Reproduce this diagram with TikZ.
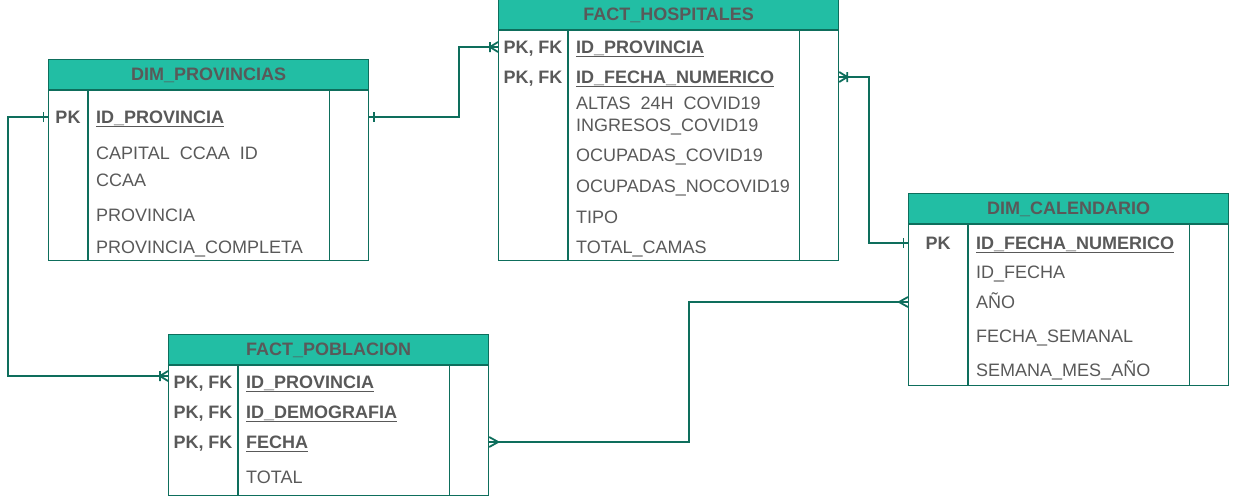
\documentclass[tikz,border=0pt]{standalone}
\usepackage{fontspec}
\setmainfont{Liberation Sans}
\usepackage{xcolor}
\usepackage{tikz}
\usetikzlibrary{positioning,calc}
\definecolor{myteal}{RGB}{34,190,164}
\definecolor{mydark}{RGB}{14,110,92}
\definecolor{mygray}{RGB}{89,89,89}
\newcommand{\tblfont}{\fontsize{18}{21}\selectfont}
\newcommand{\pkfield}[1]{\setbox0\hbox{\textbf{#1}}\rlap{\rule[-4pt]{\wd0}{1.8pt}}\box0}

% one: a bar near the end
\pgfdeclarearrow{
  name = barone,
  setup code = {
    \pgfarrowssettipend{0pt}
    \pgfarrowssetlineend{0pt}
    \pgfarrowssetbackend{-6pt}
    \pgfarrowssavethe\pgflinewidth
  },
  drawing code = {
    \pgfpathmoveto{\pgfpoint{-4.5pt}{-5pt}}
    \pgfpathlineto{\pgfpoint{-4.5pt}{5pt}}
    \pgfusepathqstroke
  }
}
% many: crow's foot
\pgfdeclarearrow{
  name = crowfoot,
  setup code = {
    \pgfarrowssettipend{0pt}
    \pgfarrowssetlineend{0pt}
    \pgfarrowssetbackend{-9pt}
    \pgfarrowssavethe\pgflinewidth
  },
  drawing code = {
    \pgfpathmoveto{\pgfpoint{0pt}{5pt}}
    \pgfpathlineto{\pgfpoint{-9pt}{0pt}}
    \pgfpathlineto{\pgfpoint{0pt}{-5pt}}
    \pgfusepathqstroke
  }
}
% one or many: crow's foot and bar
\pgfdeclarearrow{
  name = crowbar,
  setup code = {
    \pgfarrowssettipend{0pt}
    \pgfarrowssetlineend{0pt}
    \pgfarrowssetbackend{-10pt}
    \pgfarrowssavethe\pgflinewidth
  },
  drawing code = {
    \pgfpathmoveto{\pgfpoint{0pt}{5pt}}
    \pgfpathlineto{\pgfpoint{-8pt}{0pt}}
    \pgfpathlineto{\pgfpoint{0pt}{-5pt}}
    \pgfpathmoveto{\pgfpoint{-8pt}{-5pt}}
    \pgfpathlineto{\pgfpoint{-8pt}{5pt}}
    \pgfusepathqstroke
  }
}

\begin{document}
\begin{tikzpicture}[x=1pt, y=-1pt,
    tbl/.style={draw=mydark, line width=1.2pt, inner sep=0pt, minimum width=320pt},
    hdr/.style={tbl, fill=myteal, minimum height=30pt, text height=12.9pt, text depth=0pt,
      font=\tblfont\bfseries, text=mygray},
    key/.style={inner sep=0pt, text height=12.9pt, text depth=0pt, font=\tblfont\bfseries, text=mygray},
    field/.style={key, anchor=west, font=\tblfont},
    colline/.style={draw=mydark, line width=1.2pt},
    rel/.style={draw=mydark, line width=1.8pt}]
  \useasboundingbox (0,0) rectangle (1241,496);

  % DIM_PROVINCIAS
  \node[tbl, minimum height=170pt, anchor=north west] (prov) at (48,90) {};
  \draw[colline] ([xshift=40pt]prov.north west) -- ([xshift=40pt]prov.south west);
  \draw[colline] ([xshift=-40pt]prov.north east) -- ([xshift=-40pt]prov.south east);
  \node[hdr, anchor=south west] (provH) at (prov.north west) {DIM\_PROVINCIAS};
  \node[key] (provK1) at (68,117) {PK};
  \node[field] (provF1) at (96,117) {\pkfield{ID\_PROVINCIA}};
  \node[field] (provF2) at (96,153) {CAPITAL\phantom{\_}CCAA\phantom{\_}ID};
  \node[field] (provF3) at (96,180) {CCAA};
  \node[field] (provF4) at (96,215) {PROVINCIA};
  \node[field] (provF5) at (96,247) {PROVINCIA\_COMPLETA};

  % FACT_HOSPITALES
  \node[tbl, minimum width=340pt, minimum height=230pt, anchor=north west] (hosp) at (498,30) {};
  \draw[colline] ([xshift=70pt]hosp.north west) -- ([xshift=70pt]hosp.south west);
  \draw[colline] ([xshift=-40pt]hosp.north east) -- ([xshift=-40pt]hosp.south east);
  \node[hdr, minimum width=340pt, anchor=south west] (hospH) at (hosp.north west) {FACT\_HOSPITALES};
  \node[key] (hospK1) at (533,47) {PK, FK};
  \node[key] (hospK2) at (533,77) {PK, FK};
  \node[field] (hospF1) at (576,47) {\pkfield{ID\_PROVINCIA}};
  \node[field] (hospF2) at (576,77) {\pkfield{ID\_FECHA\_NUMERICO}};
  \node[field] (hospF3) at (576,103) {ALTAS\phantom{\_}24H\phantom{\_}COVID19};
  \node[field] (hospF4) at (576,125) {INGRESOS\_COVID19};
  \node[field] (hospF5) at (576,155) {OCUPADAS\_COVID19};
  \node[field] (hospF6) at (576,186) {OCUPADAS\_NOCOVID19};
  \node[field] (hospF7) at (576,217) {TIPO};
  \node[field] (hospF8) at (576,247) {TOTAL\_CAMAS};

  % DIM_CALENDARIO
  \node[tbl, minimum height=161pt, anchor=north west] (cal) at (908,224) {};
  \draw[colline] ([xshift=60pt]cal.north west) -- ([xshift=60pt]cal.south west);
  \draw[colline] ([xshift=-40pt]cal.north east) -- ([xshift=-40pt]cal.south east);
  \node[hdr, anchor=south west] (calH) at (cal.north west) {DIM\_CALENDARIO};
  \node[key] (calK1) at (938,243) {PK};
  \node[field] (calF1) at (976,243) {\pkfield{ID\_FECHA\_NUMERICO}};
  \node[field] (calF2) at (976,272) {ID\_FECHA};
  \node[field] (calF3) at (976,302) {AÑO};
  \node[field] (calF4) at (976,336) {FECHA\_SEMANAL};
  \node[field] (calF5) at (976,370) {SEMANA\_MES\_AÑO};

  % FACT_POBLACION
  \node[tbl, minimum height=130pt, anchor=north west] (pob) at (168,365) {};
  \draw[colline] ([xshift=70pt]pob.north west) -- ([xshift=70pt]pob.south west);
  \draw[colline] ([xshift=-40pt]pob.north east) -- ([xshift=-40pt]pob.south east);
  \node[hdr, anchor=south west] (pobH) at (pob.north west) {FACT\_POBLACION};
  \node[key] (pobK1) at (203,382) {PK, FK};
  \node[key] (pobK2) at (203,412) {PK, FK};
  \node[key] (pobK3) at (203,442) {PK, FK};
  \node[field] (pobF1) at (246,382) {\pkfield{ID\_PROVINCIA}};
  \node[field] (pobF2) at (246,412) {\pkfield{ID\_DEMOGRAFIA}};
  \node[field] (pobF3) at (246,442) {\pkfield{FECHA}};
  \node[field] (pobF4) at (246,477) {TOTAL};

  % relations
  \draw[rel, {barone}-{crowbar}] (prov.east |- provF1) -- ++(90,0) |- (hosp.west |- hospF1);
  \draw[rel, {crowbar}-{barone}] (hosp.east |- hospF2) -- ++(30,0) |- (cal.west |- calF1);
  \draw[rel, {barone}-{crowbar}] (prov.west |- provF1) -- ++(-40,0) |- ($(pob.west |- pobF1)+(0,-6)$);
  \draw[rel, {crowfoot}-{crowfoot}] (pob.east |- pobF3) -- ++(200,0) |- (cal.west |- calF3);
\end{tikzpicture}
\end{document}
